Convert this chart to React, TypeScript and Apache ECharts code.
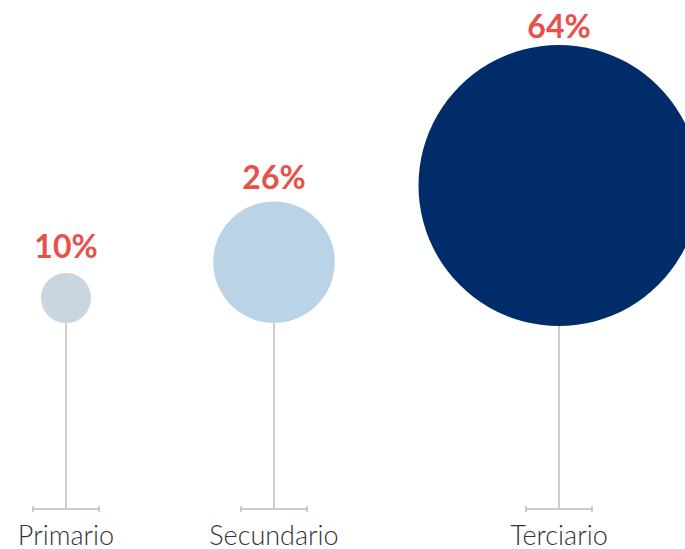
import React, { useEffect, useRef } from "react";
import * as echarts from "echarts";

// Data
const categories = ["Primario", "Secundario", "Terciario"];
const shares = [10, 26, 64];
const circleColors = ["#C9D6DF", "#BBD3E6", "#002D6A"];

// Layout (pixel-space axes)
const W = 685;
const H = 549;
const slotX = [66, 274, 559];
const BASE_LEVEL = 40; // y value of base tick
const BOTTOM_LEVEL = 226; // y value of circle bottoms

export default function App() {
  const ref = useRef<HTMLDivElement>(null);
  useEffect(() => {
    const chart = echarts.init(ref.current!, undefined, { renderer: "svg" });
    const data = categories.map((c, i) => [slotX[i], shares[i], i]);
    chart.setOption({
      animation: false,
      grid: { left: 0, right: 0, top: 0, bottom: 0 },
      xAxis: { type: "value", min: 0, max: W, show: false },
      yAxis: { type: "value", min: 0, max: H, show: false },
      series: [
        {
          type: "custom",
          clip: false,
          data,
          renderItem: (params: any, api: any) => {
            const x = api.value(0);
            const v = api.value(1);
            const idx = api.value(2);
            const base = api.coord([x, BASE_LEVEL]);
            const bottom = api.coord([x, BOTTOM_LEVEL]);
            const d = 50 * Math.pow(v / 10, 0.93);
            const r = d / 2;
            const cy = bottom[1] - r + (idx === 2 ? 3 : 0);
            const cx = base[0];
            const labelGap = 29.1 - 0.069 * r;
            const stroke = { stroke: "#BDBDBD", lineWidth: 1.5 };
            return {
              type: "group",
              children: [
                { type: "line", shape: { x1: cx, y1: base[1], x2: cx, y2: cy }, style: stroke },
                { type: "line", shape: { x1: cx - 33, y1: base[1], x2: cx + 33, y2: base[1] }, style: stroke },
                { type: "line", shape: { x1: cx - 33, y1: base[1] - 3, x2: cx - 33, y2: base[1] + 3 }, style: stroke },
                { type: "line", shape: { x1: cx + 33, y1: base[1] - 3, x2: cx + 33, y2: base[1] + 3 }, style: stroke },
                { type: "circle", shape: { cx, cy, r }, style: { fill: circleColors[idx] } },
                {
                  type: "text",
                  x: cx,
                  y: cy - r - labelGap,
                  style: {
                    text: v + "%",
                    fill: "#E8504A",
                    font: "bold 32px Lato, 'Open Sans', sans-serif",
                    align: "center",
                    verticalAlign: "middle",
                  },
                },
                {
                  type: "text",
                  x: cx,
                  y: base[1] + 25,
                  style: {
                    text: categories[idx],
                    fill: "#333333",
                    font: "300 27px Lato, 'Open Sans', sans-serif",
                    align: "center",
                    verticalAlign: "middle",
                  },
                },
              ],
            };
          },
        },
      ],
    });
    return () => chart.dispose();
  }, []);
  return (
    <div
      ref={ref}
      style={{ position: "fixed", left: 0, top: 0, width: W, height: H, background: "#fff" }}
    />
  );
}
